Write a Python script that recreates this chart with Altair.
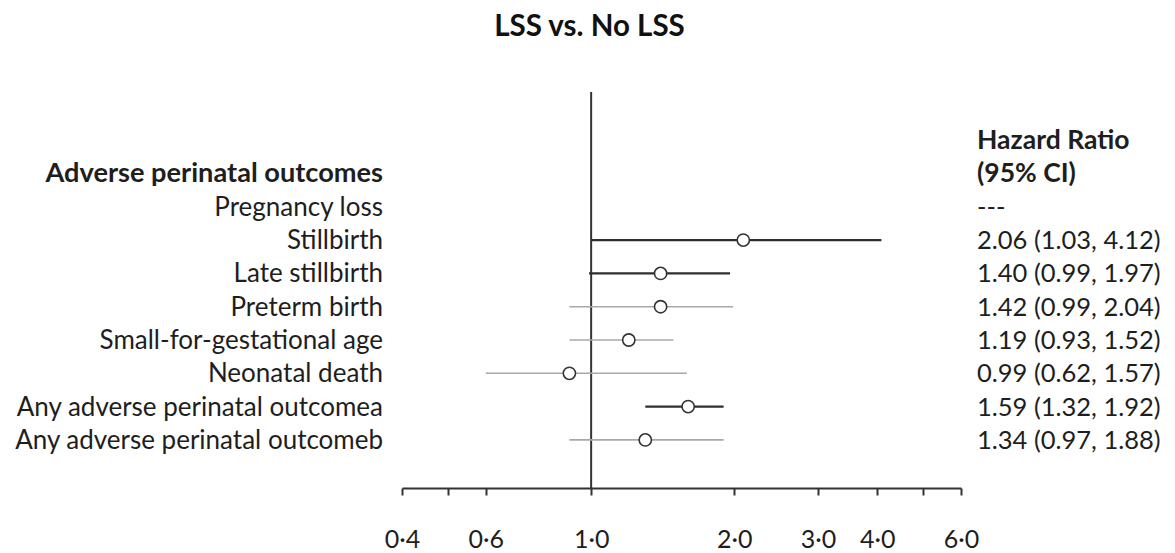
import json
import altair as alt
import pandas as pd

# ---- data ----
title_text = "LSS vs. No LSS"
left_header = "Adverse perinatal outcomes"
right_header = ["Hazard Ratio", "(95% CI)"]

outcomes = [
    "Pregnancy loss",
    "Stillbirth",
    "Late stillbirth",
    "Preterm birth",
    "Small-for-gestational age",
    "Neonatal death",
    "Any adverse perinatal outcomea",
    "Any adverse perinatal outcomeb",
]
est = [None, 2.09, 1.40, 1.40, 1.20, 0.90, 1.60, 1.30]
lo = [None, 1.00, 0.99, 0.90, 0.90, 0.60, 1.30, 0.90]
hi = [None, 4.08, 1.96, 1.99, 1.49, 1.59, 1.90, 1.90]
hr_text = [
    "---",
    "2.06 (1.03, 4.12)",
    "1.40 (0.99, 1.97)",
    "1.42 (0.99, 2.04)",
    "1.19 (0.93, 1.52)",
    "0.99 (0.62, 1.57)",
    "1.59 (1.32, 1.92)",
    "1.34 (0.97, 1.88)",
]
tone = ["", "dark", "dark", "light", "light", "light", "dark", "light"]

tick_values = [0.4, 0.5, 0.6, 1, 2, 3, 4, 5, 6]
tick_labels = ["0·4", "", "0·6", "1·0", "2·0", "3·0", "4·0", "", "6·0"]

# ---- tables ----
rows = pd.DataFrame({
    "outcome": outcomes,
    "est": est,
    "lo": lo,
    "hi": hi,
    "hr": hr_text,
    "tone": tone,
    "row": list(range(1, len(outcomes) + 1)),
})
heads = pd.DataFrame({"txt": right_header, "row": [-1, 0]})
lhead = pd.DataFrame({"txt": [left_header], "row": [0]})
ref = pd.DataFrame({"ref": [1]})
ttl = pd.DataFrame({"txt": [title_text]})

FONT = "Lato"
TXT = "#1e1e1e"
xs = alt.Scale(type="log", domain=[0.4, 6], nice=False)
ys = alt.Scale(domain=[-2.447, 9.444], reverse=True)

label_expr = (
    json.dumps(tick_labels, ensure_ascii=False)
    + "[indexof(" + json.dumps(tick_values) + ", datum.value)]"
)
xaxis = alt.Axis(
    values=tick_values, labelExpr=label_expr, title=None, grid=False,
    domainColor="#333333", domainWidth=2, tickColor="#333333", tickWidth=2,
    tickSize=7, labelFont=FONT, labelFontSize=25, labelColor=TXT,
    labelPadding=32, labelOverlap=False, labelFlush=False,
)

vline = alt.Chart(ref).mark_rule(color="#333333", strokeWidth=2).encode(
    x=alt.X("ref:Q", scale=xs, axis=xaxis)
)

ci = alt.Chart(rows).transform_filter("isValid(datum.est)").mark_rule().encode(
    x=alt.X("lo:Q", scale=xs),
    x2="hi:Q",
    y=alt.Y("row:Q", scale=ys, axis=None),
    color=alt.Color("tone:N", scale=alt.Scale(domain=["dark", "light"], range=["#2e2e2e", "#a8a8a8"]), legend=None),
    strokeWidth=alt.StrokeWidth("tone:N", scale=alt.Scale(domain=["dark", "light"], range=[2.2, 1.6]), legend=None),
)

pts = alt.Chart(rows).transform_filter("isValid(datum.est)").mark_point(
    shape="circle", filled=True, fill="white", stroke="#333333", strokeWidth=1.6, size=150, opacity=1
).encode(
    x=alt.X("est:Q", scale=xs),
    y=alt.Y("row:Q", scale=ys),
)

row_labels = alt.Chart(rows).mark_text(
    align="right", baseline="middle", font=FONT, fontSize=26, color=TXT, dy=1
).encode(
    x=alt.value(-19), y=alt.Y("row:Q", scale=ys), text="outcome:N"
)

hr_labels = alt.Chart(rows).mark_text(
    align="left", baseline="middle", font=FONT, fontSize=25.5, color=TXT, dy=1
).encode(
    x=alt.value(575), y=alt.Y("row:Q", scale=ys), text="hr:N"
)

right_heads = alt.Chart(heads).mark_text(
    align="left", baseline="middle", font=FONT, fontSize=26.5, fontWeight="bold", color=TXT, dy=1
).encode(
    x=alt.value(575), y=alt.Y("row:Q", scale=ys), text="txt:N"
)

left_head = alt.Chart(lhead).mark_text(
    align="right", baseline="middle", font=FONT, fontSize=27.2, fontWeight="bold", color=TXT, dy=1
).encode(
    x=alt.value(-19), y=alt.Y("row:Q", scale=ys), text="txt:N"
)

title = alt.Chart(ttl).mark_text(
    align="center", baseline="alphabetic", font=FONT, fontSize=29.5, fontWeight="bold", color="#111111"
).encode(
    x=alt.value(187.5), y=alt.value(-56), text="txt:N"
)

chart = alt.layer(
    vline, ci, pts, row_labels, hr_labels, right_heads, left_head, title
).properties(
    width=559, height=396,
    autosize=alt.AutoSizeParams(type="none"),
    padding={"left": 394, "top": 84, "right": 206, "bottom": 65},
    background="white",
).configure_view(stroke=None)

chart.save("out.html", embed_options={"renderer": "svg", "actions": False})
